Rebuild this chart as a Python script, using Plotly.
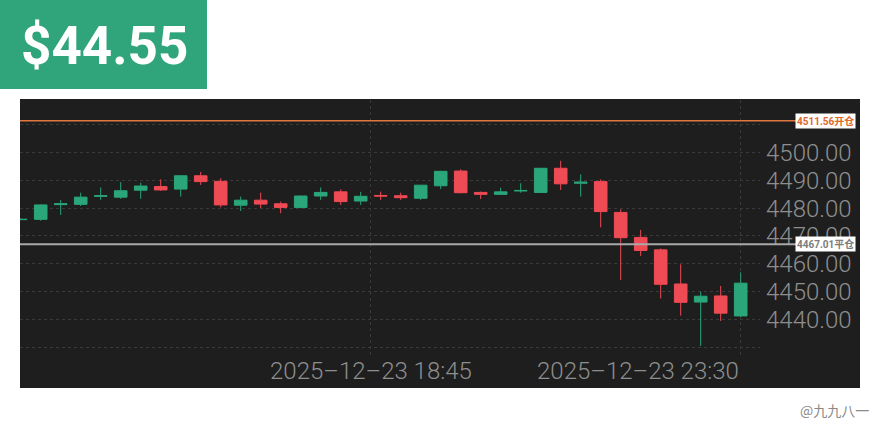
import plotly.graph_objects as go
import pandas as pd

# ---- data (15-minute candles) ----
times = pd.date_range("2025-12-23 14:30", periods=37, freq="15min")
opens = [4475.9, 4476.0, 4481.3, 4481.4, 4484.3, 4484.0, 4486.5, 4487.8, 4486.9, 4491.7,
         4489.7, 4481.1, 4482.9, 4481.6, 4480.3, 4484.4, 4485.9, 4482.6, 4484.6, 4484.5,
         4483.6, 4488.1, 4493.4, 4485.7, 4485.0, 4486.2, 4485.7, 4494.4, 4489.0, 4489.6,
         4478.5, 4469.5, 4465.0, 4452.7, 4446.2, 4448.4, 4441.2]
highs = [4476.3, 4481.3, 4483.0, 4485.6, 4487.5, 4489.4, 4489.2, 4490.4, 4491.8, 4493.1,
         4490.8, 4484.2, 4485.6, 4482.4, 4484.6, 4487.5, 4486.8, 4485.9, 4486.0, 4485.6,
         4488.4, 4493.5, 4494.0, 4486.0, 4487.4, 4489.0, 4494.5, 4497.1, 4492.2, 4490.4,
         4479.6, 4472.2, 4465.5, 4459.8, 4449.9, 4452.0, 4456.9]
lows = [4475.7, 4475.5, 4477.6, 4480.8, 4483.0, 4483.4, 4483.4, 4486.3, 4484.2, 4488.4,
        4480.3, 4479.0, 4480.0, 4478.2, 4480.0, 4483.0, 4481.2, 4481.2, 4483.0, 4483.0,
        4483.0, 4486.9, 4485.4, 4483.3, 4484.8, 4485.6, 4485.5, 4486.6, 4484.2, 4473.1,
        4454.1, 4462.8, 4447.5, 4441.3, 4430.4, 4439.4, 4440.8]
closes = [4476.0, 4481.2, 4481.6, 4484.0, 4484.5, 4486.3, 4488.0, 4486.6, 4491.7, 4489.6,
          4481.2, 4482.9, 4481.5, 4480.3, 4484.4, 4485.7, 4482.4, 4484.3, 4484.4, 4483.8,
          4488.3, 4493.3, 4485.6, 4485.0, 4485.9, 4486.4, 4494.4, 4488.8, 4489.4, 4478.8,
          4469.4, 4464.8, 4452.6, 4446.1, 4448.3, 4442.2, 4453.0]

price_label = "$44.55"
open_level = 4511.56
open_level_text = "4511.56开仓"
close_level = 4467.01
close_level_text = "4467.01平仓"
y_ticks = [4430, 4440, 4450, 4460, 4470, 4480, 4490, 4500, 4510]
y_tick_text = ["", "4440.00", "4450.00", "4460.00", "4470.00", "4480.00", "4490.00", "4500.00", ""]
x_tick_pos = [pd.Timestamp("2025-12-23 18:52:30"), pd.Timestamp("2025-12-23 23:30")]
x_tick_text = ["2025–12–23 18:45", "2025–12–23 23:30"]
watermark = "@九九八一"

GREEN = "#2ba67a"
RED = "#ef4b55"
GRID = "#3a3a3a"
LABEL = "#8e8e8e"
FONT = "Roboto, Noto Sans CJK SC, sans-serif"

fig = go.Figure(go.Candlestick(
    x=times, open=opens, high=highs, low=lows, close=closes,
    increasing=dict(line=dict(color=GREEN, width=1), fillcolor=GREEN),
    decreasing=dict(line=dict(color=RED, width=1), fillcolor=RED),
    whiskerwidth=0, showlegend=False,
))

# pixel -> paper helpers (plot area: x 20..760, y 100..358)
def px(p):
    return (p - 20) / 740.0

def py(p):
    return (358 - p) / 258.0

shapes = [
    dict(type="rect", xref="paper", yref="paper", x0=px(20), x1=px(860), y0=py(388), y1=py(99),
         fillcolor="#1e1e1e", line=dict(width=0), layer="below"),
    dict(type="rect", xref="paper", yref="paper", x0=px(0), x1=px(207), y0=py(89), y1=py(0),
         fillcolor="#30a57b", line=dict(width=0), layer="below"),
    dict(type="line", xref="paper", yref="y", x0=px(20), x1=px(798), y0=open_level, y1=open_level,
         line=dict(color="#e2773f", width=1.5)),
    dict(type="line", xref="paper", yref="y", x0=px(20), x1=px(798), y0=close_level, y1=close_level,
         line=dict(color="#a9a9a9", width=2)),
]

annotations = [
    dict(text=price_label, xref="paper", yref="paper", x=px(104), y=py(46), showarrow=False,
         xanchor="center", yanchor="middle",
         font=dict(family="Roboto, sans-serif", size=53, color="white", weight="bold")),
    dict(text=open_level_text, xref="paper", yref="y", x=px(856), y=open_level, showarrow=False,
         xanchor="right", yanchor="middle", bgcolor="white", borderpad=1,
         font=dict(family=FONT, size=10, color="#e0692e", weight="bold")),
    dict(text=close_level_text, xref="paper", yref="y", x=px(856), y=close_level, showarrow=False,
         xanchor="right", yanchor="middle", bgcolor="white", borderpad=1,
         font=dict(family=FONT, size=10, color="#7c7c7c", weight="bold")),
    dict(text=x_tick_text[0], xref="x", yref="paper", x=x_tick_pos[0], y=py(371), showarrow=False,
         xanchor="center", yanchor="middle",
         font=dict(family=FONT, size=24, color=LABEL, weight=300)),
    dict(text=x_tick_text[1], xref="x", yref="paper", x=x_tick_pos[1], y=py(371), showarrow=False,
         xanchor="right", yanchor="middle",
         font=dict(family=FONT, size=24, color=LABEL, weight=300)),
    dict(text=watermark, xref="paper", yref="paper", x=px(871), y=py(410), showarrow=False,
         xanchor="right", yanchor="middle",
         font=dict(family="Noto Sans CJK SC, sans-serif", size=14, color="#8a8a8a")),
]

t0 = times[0]
step = pd.Timedelta(minutes=15)
fig.update_layout(
    width=880, height=440, autosize=False,
    margin=dict(l=20, r=120, t=100, b=82, pad=0),
    paper_bgcolor="white", plot_bgcolor="rgba(0,0,0,0)",
    shapes=shapes, annotations=annotations,
    boxgap=0.1,
    xaxis=dict(type="date", range=[t0 - step * 0.035, t0 + step * 36.965],
               rangeslider=dict(visible=False), tickvals=x_tick_pos, showticklabels=False,
               showgrid=True, gridcolor=GRID, griddash="dot", gridwidth=1,
               zeroline=False, showline=False, ticks=""),
    yaxis=dict(side="right", range=[4426.04, 4519.0], tickvals=y_ticks, ticktext=y_tick_text,
               showgrid=True, gridcolor=GRID, griddash="dot", gridwidth=1,
               zeroline=False, showline=False, ticks="", ticklabelstandoff=5,
               tickfont=dict(family=FONT, size=24, color=LABEL, weight=300)),
    hovermode=False,
)

fig.write_html("out.html", config={"displayModeBar": False},
               post_script="document.body.style.margin='0';document.body.style.padding='0';")
